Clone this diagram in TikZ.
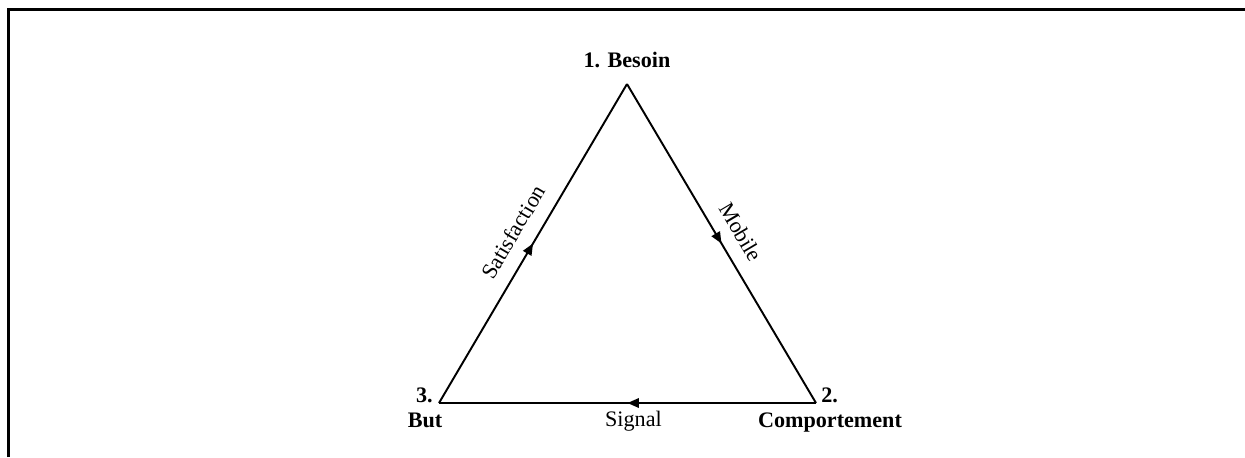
\documentclass[tikz,border=0pt]{standalone}
\usepackage{fontspec}
\setmainfont{Liberation Serif}
\usetikzlibrary{arrows.meta, decorations.markings}

\tikzset{
    side/.style={line width=1.1pt, postaction={decorate},
        decoration={markings, mark=at position 0.5 with {\arrow{Triangle[length=6.5pt, width=5.4pt]}}}},
    vertexlabel/.style={font=\fontsize{12.6}{15}\selectfont\bfseries, inner sep=0pt},
    sidelabel/.style={font=\fontsize{12.6}{15}\selectfont, inner sep=0pt}
}

\begin{document}
\begin{tikzpicture}[x=0.02cm, y=-0.02cm]
    \useasboundingbox (0,0) rectangle (1245,457);

    \def\xl{439};
    \def\xm{627};
    \def\xr{816};
    \def\yt{84};
    \def\yb{403};

% frame
    \draw[line width=1.7pt] (8.5,457) -- (8.5,9.5) -- (1245,9.5);

% corners
    \coordinate (besoin) at (\xm, \yt);
    \coordinate (comport) at (\xr, \yb);
    \coordinate (but) at (\xl, \yb);

% sides
    \draw[side] (besoin) -- node[sidelabel, sloped, above=8pt] (mobile) {Mobile} (comport);
    \draw[side] (comport) -- node[sidelabel, anchor=base, yshift=-13.6pt, xshift=3.4pt] (signal) {Signal} (but);
    \draw[side] (but) -- node[sidelabel, sloped, above=8pt] (satisf) {Satisfaction} (besoin);

% labels
    \node[vertexlabel, anchor=base] (lbesoin) at (\xm, 67) {1. Besoin};
    \node[vertexlabel, anchor=base west] (lnum2) at (\xr+5, \yb-1) {2.};
    \node[vertexlabel, anchor=base] (lcomport) at (830, 427) {Comportement};
    \node[vertexlabel, anchor=base east] (lnum3) at (\xl-6, \yb-1) {3.};
    \node[vertexlabel, anchor=base] (lbut) at (425, 427) {But};
\end{tikzpicture}
\end{document}
